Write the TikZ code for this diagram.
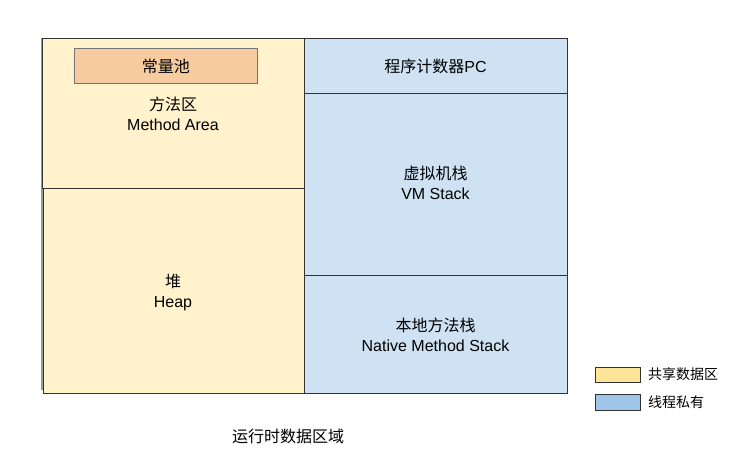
\documentclass[tikz,border=0pt]{standalone}
\usepackage{fontspec}
\setmainfont{Liberation Sans}
\newfontfamily\cjk{Noto Sans CJK SC}
\definecolor{shareY}{HTML}{FFF2CC}
\definecolor{privB}{HTML}{CFE2F3}
\definecolor{poolC}{HTML}{F6CBA0}
\definecolor{legY}{HTML}{FFE599}
\definecolor{legB}{HTML}{9FC5E8}
\definecolor{lineC}{HTML}{333333}
\tikzset{
  area/.style={draw=lineC, line width=0.9pt},
  lbl/.style={align=center, font=\fontsize{16}{20}\selectfont, text=black, inner sep=0pt},
  legtxt/.style={anchor=west, font=\fontsize{14}{16}\selectfont\cjk, inner sep=0pt},
}
\begin{document}
\begin{tikzpicture}[x=1pt,y=-1pt]
\useasboundingbox (0,0) rectangle (750,454);
% outer frame
\draw[draw=gray!80, line width=1.2pt] (42,38) -- (42,390);
% method area
\filldraw[area, fill=shareY] (42,38) rectangle (304,188);
\node[area, fill=poolC, draw=gray!90!black, minimum width=183pt, minimum height=35pt, anchor=north west, inner sep=0pt, font=\fontsize{16}{20}\selectfont\cjk] (pool) at (74,48) {常量池};
\node[lbl] (ma) at (173,114) {{\cjk 方法区}\\Method Area};
% heap
\filldraw[area, fill=shareY] (43,188) rectangle (304,393);
\node[lbl] (heap) at (173,292) {{\cjk 堆}\\Heap};
% PC
\filldraw[area, fill=privB] (304,38) rectangle (567,93);
\node[lbl] (pc) at (435.5,66) {{\cjk 程序计数器}PC};
% VM stack
\filldraw[area, fill=privB] (304,93) rectangle (567,275);
\node[lbl] (vms) at (435.5,183) {{\cjk 虚拟机栈}\\VM Stack};
% native stack
\filldraw[area, fill=privB] (304,275) rectangle (567,393);
\node[lbl] (nms) at (435.5,335) {{\cjk 本地方法栈}\\Native Method Stack};
% legend
\filldraw[area, fill=legY] (595,367) rectangle (640,382);
\node[legtxt] (l1) at (648,374.5) {共享数据区};
\filldraw[area, fill=legB] (595,394) rectangle (640,410);
\node[legtxt] (l2) at (648,402) {线程私有};
% caption
\node[lbl, font=\fontsize{16}{20}\selectfont\cjk] (cap) at (288,436) {运行时数据区域};
\end{tikzpicture}
\end{document}
